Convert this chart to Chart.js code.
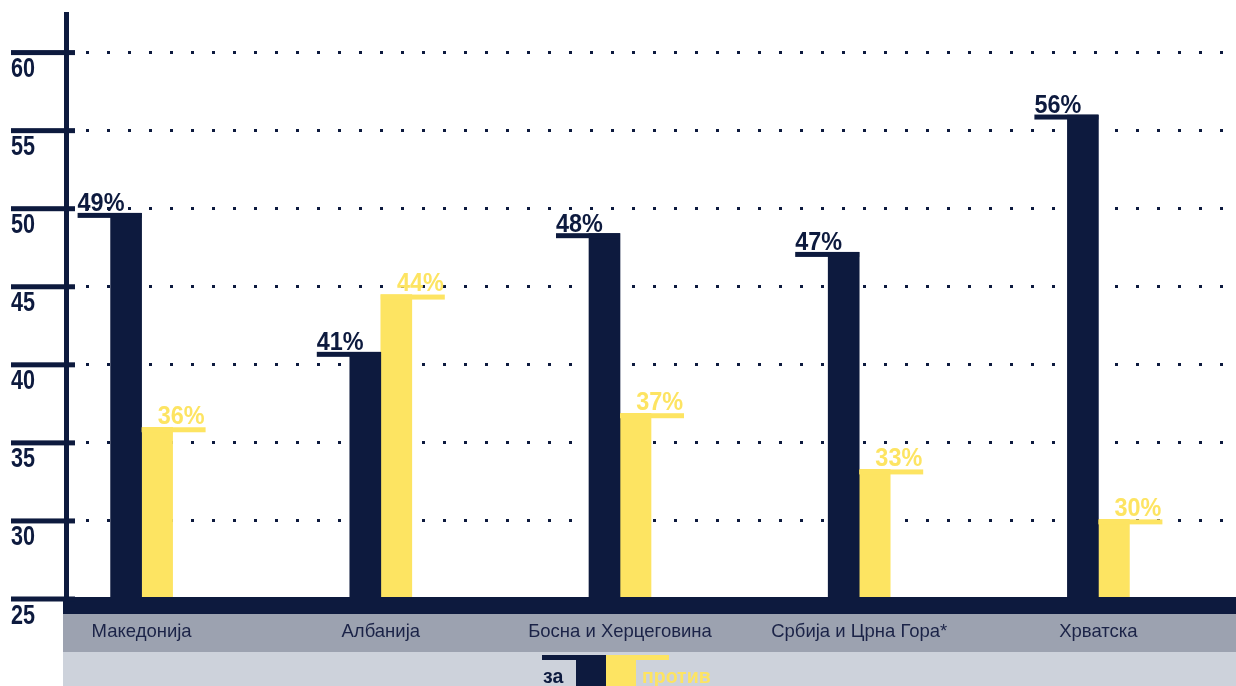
<!DOCTYPE html>
<html lang="mk">
<head>
  <meta charset="UTF-8" />
  <title>за / против</title>
  <script src="https://cdn.jsdelivr.net/npm/chart.js"></script>
  <style>
    html, body { margin: 0; padding: 0; background: #fff; }
    .chart-container { width: 1236px; height: 686px; position: relative; }
  </style>
</head>
<body>
  <div class="chart-container"><canvas id="anketaChart"></canvas></div>

  <script>
    const countries = ['Македонија', 'Албанија', 'Босна и Херцеговина', 'Србија и Црна Гора*', 'Хрватска'];
    // bar heights as drawn in the picture, and the printed labels
    const zaValues = [49.7, 40.8, 48.4, 47.2, 56.0];
    const protivValues = [36.0, 44.5, 36.9, 33.3, 30.1];
    const zaLabels = ['49%', '41%', '48%', '47%', '56%'];
    const protivLabels = ['36%', '44%', '37%', '33%', '30%'];
    const seriesNames = ['за', 'против'];
    const yTicks = [25, 30, 35, 40, 45, 50, 55, 60];

    const NAVY = '#0d1a3e';
    const YELLOW = '#fde462';
    const BAND_GRAY = '#9ca2b0';
    const BAND_LIGHT = '#cdd2db';
    const LABEL_INK = '#1b2347';

    // draws text squeezed horizontally (condensed look)
    function squeezedText(ctx, text, x, y, align, sx) {
      ctx.save();
      ctx.translate(x, y);
      ctx.scale(sx, 1);
      ctx.textAlign = align;
      ctx.fillText(text, 0, 0);
      ctx.restore();
    }

    const decorPlugin = {
      id: 'decor',
      beforeDatasetsDraw(chart) {
        const ctx = chart.ctx;
        const y = chart.scales.y;
        ctx.save();
        ctx.fillStyle = NAVY;
        yTicks.forEach(t => {
          if (t === yTicks[0]) return;
          const py = Math.round(y.getPixelForValue(t));
          for (let x = 86; x < 1224; x += 21) {
            ctx.fillRect(x, py - 2, 3, 3);
          }
        });
        ctx.restore();
      },
      afterDatasetsDraw(chart) {
        const ctx = chart.ctx;
        const W = chart.width;
        const xs = chart.scales.x;
        const ys = chart.scales.y;
        ctx.save();

        // bottom bands
        ctx.fillStyle = NAVY;
        ctx.fillRect(63, 597, W - 63, 17);
        ctx.fillStyle = BAND_GRAY;
        ctx.fillRect(63, 614, W - 63, 38);
        ctx.fillStyle = BAND_LIGHT;
        ctx.fillRect(63, 652, W - 63, 34);

        // y axis line, tick marks and labels
        ctx.fillStyle = NAVY;
        ctx.fillRect(64, 12, 5, 586);
        ctx.font = 'bold 27px "Liberation Sans", Arial, sans-serif';
        ctx.textBaseline = 'alphabetic';
        yTicks.forEach(t => {
          const py = ys.getPixelForValue(t);
          ctx.fillRect(11, py - 2.5, 64, 5);
          squeezedText(ctx, String(t), 11, py + 24.5, 'left', 0.8);
        });

        // category labels
        ctx.fillStyle = LABEL_INK;
        ctx.font = '18.5px "Liberation Sans", Arial, sans-serif';
        ctx.textAlign = 'center';
        ctx.textBaseline = 'middle';
        countries.forEach((c, i) => {
          ctx.fillText(c, xs.getPixelForValue(i), 632);
        });

        // value labels with their little ledges
        ctx.font = 'bold 26px "Liberation Sans", Arial, sans-serif';
        ctx.textBaseline = 'alphabetic';
        chart.getDatasetMeta(0).data.forEach((bar, i) => {
          const left = bar.x + bar.width / 2 - 64;
          ctx.fillStyle = NAVY;
          ctx.fillRect(left, bar.y - 0.5, 64, 5);
          squeezedText(ctx, zaLabels[i], left, bar.y - 2, 'left', 0.9);
        });
        chart.getDatasetMeta(1).data.forEach((bar, i) => {
          const left = bar.x - bar.width / 2;
          ctx.fillStyle = YELLOW;
          ctx.fillRect(left, bar.y, 64, 5);
          squeezedText(ctx, protivLabels[i], left + 63, bar.y - 3.5, 'right', 0.9);
        });

        // legend
        ctx.fillStyle = NAVY;
        ctx.fillRect(542, 655, 64, 5);
        ctx.fillRect(576, 655, 30, 31);
        ctx.fillStyle = YELLOW;
        ctx.fillRect(606, 655, 63, 5);
        ctx.fillRect(606, 655, 30, 31);
        ctx.font = 'bold 19.5px "Liberation Sans", Arial, sans-serif';
        ctx.textAlign = 'left';
        ctx.fillStyle = NAVY;
        ctx.fillText(seriesNames[0], 543, 683);
        ctx.fillStyle = YELLOW;
        ctx.fillText(seriesNames[1], 642, 683);

        ctx.restore();
      }
    };

    const ctx = document.getElementById('anketaChart').getContext('2d');
    const chart = new Chart(ctx, {
      type: 'bar',
      data: {
        labels: countries,
        datasets: [
          { label: seriesNames[0], data: zaValues, backgroundColor: NAVY, barThickness: 31 },
          { label: seriesNames[1], data: protivValues, backgroundColor: YELLOW, barThickness: 31 }
        ]
      },
      options: {
        responsive: true,
        maintainAspectRatio: false,
        animation: false,
        layout: { padding: { left: 22, right: 18, top: 12, bottom: 87 } },
        scales: {
          x: { display: false },
          y: { display: false, min: 25, max: 62.6 }
        },
        plugins: {
          legend: { display: false },
          tooltip: { enabled: false }
        }
      },
      plugins: [decorPlugin]
    });
  </script>
</body>
</html>
